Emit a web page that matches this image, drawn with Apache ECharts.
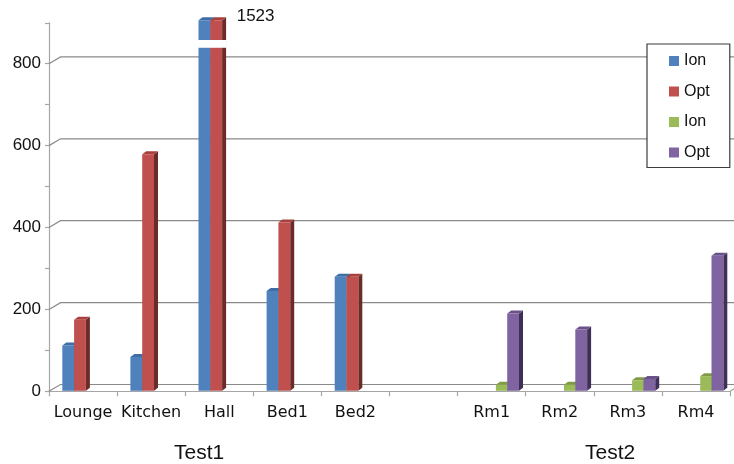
<!DOCTYPE html>
<html>
<head>
<meta charset="utf-8">
<script src="https://cdn.jsdelivr.net/npm/echarts@6/dist/echarts.min.js"></script>
<style>
  html, body { margin: 0; padding: 0; background: #ffffff; }
  #chart { width: 734px; height: 464px; }
</style>
</head>
<body>
<div id="chart"></div>
<script>
// Room readings, two test runs
const categories = ['Lounge', 'Kitchen', 'Hall', 'Bed1', 'Bed2', '', 'Rm1', 'Rm2', 'Rm3', 'Rm4'];
const ionTest1 = [112, 84, 1480, 245, 280, null, null, null, null, null];
const optTest1 = [175, 579, 1523, 412, 280, null, null, null, null, null];
const ionTest2 = [null, null, null, null, null, null, 16, 16, 27, 37];
const optTest2 = [null, null, null, null, null, null, 190, 151, 30, 331];
const wallLines = [0, 200, 400, 600, 800];
const groupLabels = ['Test1', 'Test2'];
const seriesNames = ['Ion Test1', 'Opt Test1', 'Ion Test2', 'Opt Test2'];

const AXIS_MAX = 900;
const CLIP_AT = 906;          // visible top of an off-scale column
const BREAK_BAND = [839, 858]; // white gap marking the cut column

// pseudo-3D geometry
const BAR_W = 11.8, DEPTH_X = 4, DEPTH_Y = 3;
const WALL_X = 11.5, WALL_Y = 6.8;

const palette = [
  { face: '#4F81BD', side: '#2C4D75', top: '#3F6DA5' },
  { face: '#C0504D', side: '#6B2B29', top: '#A8413E' },
  { face: '#9BBB59', side: '#5C7530', top: '#7F9C45' },
  { face: '#8064A2', side: '#3F3156', top: '#6A5189' }
];
const slotOffsets = [13.3, 25.1, 38.3, 49.6];

function toData(arr) {
  return arr.map((v, i) => [i, v == null ? '-' : v]);
}

function columnRenderer(k, labelled) {
  const c = palette[k];
  return function (params, api) {
    const v = api.value(1);
    if (v == null || isNaN(v)) return null;
    const cat = api.value(0);
    const band = api.size([1, 0])[0];
    const base = api.coord([cat, 0]);
    const x0 = base[0] - band / 2 + slotOffsets[k];
    const x1 = x0 + BAR_W;
    const yB = base[1] - 0.5;
    const over = v > AXIS_MAX;
    const yT = api.coord([cat, over ? CLIP_AT : v])[1];
    const children = [
      { type: 'polygon', shape: { points: [[x1, yT], [x1 + DEPTH_X, yT - DEPTH_Y], [x1 + DEPTH_X, yB - DEPTH_Y], [x1, yB]] }, style: { fill: c.side } },
      { type: 'polygon', shape: { points: [[x0, yT], [x0 + DEPTH_X, yT - DEPTH_Y], [x1 + DEPTH_X, yT - DEPTH_Y], [x1, yT]] }, style: { fill: c.top } },
      { type: 'rect', shape: { x: x0, y: yT, width: BAR_W, height: yB - yT }, style: { fill: c.face } }
    ];
    if (over) {
      const yHi = api.coord([cat, BREAK_BAND[1]])[1];
      const yLo = api.coord([cat, BREAK_BAND[0]])[1];
      children.push({ type: 'rect', shape: { x: x0 - 0.5, y: yHi, width: BAR_W + DEPTH_X + 1, height: yLo - yHi }, style: { fill: '#ffffff' } });
      if (labelled) {
        children.push({
          type: 'text',
          style: {
            text: String(v), x: x1 + DEPTH_X + 10.6, y: yT - 3.6,
            verticalAlign: 'middle', align: 'left',
            fill: '#111', font: '17px "Liberation Sans"'
          }
        });
      }
    }
    return { type: 'group', children: children };
  };
}

function wallRenderer(params, api) {
  const v = api.value(1);
  const band = api.size([1, 0])[0];
  const first = api.coord([0, v]);
  const last = api.coord([categories.length - 1, v]);
  const xl = first[0] - band / 2;
  const xr = last[0] + band / 2;
  const y = first[1];
  const children = [{
    type: 'polyline',
    shape: { points: [[xl, y], [xl + WALL_X, y - WALL_Y], [xr + WALL_X, y - WALL_Y]] },
    style: { stroke: '#8a8a8a', lineWidth: 1.2, fill: null }
  }];
  if (v === 0) {
    children.push({
      type: 'line',
      shape: { x1: xr, y1: y, x2: xr + WALL_X, y2: y - WALL_Y },
      style: { stroke: '#a6a6a6', lineWidth: 1.2 }
    });
  }
  return { type: 'group', children: children };
}

const valueSets = [ionTest1, optTest1, ionTest2, optTest2];

const chart = echarts.init(document.getElementById('chart'), null, { renderer: 'canvas' });

const series = [{
  type: 'custom',
  name: 'wall',
  silent: true,
  z: 1,
  renderItem: wallRenderer,
  data: wallLines.map(v => [0, v])
}];
valueSets.forEach((vals, k) => {
  series.push({
    type: 'custom',
    name: seriesNames[k],
    z: 2 + k,
    itemStyle: { color: palette[k].face },
    renderItem: columnRenderer(k, k === 1),
    data: toData(vals)
  });
});

chart.setOption({
  backgroundColor: '#ffffff',
  animation: false,
  grid: { left: 49, right: 4, top: 22.8, bottom: 72.7, containLabel: false },
  xAxis: {
    type: 'category',
    data: categories,
    boundaryGap: true,
    axisLine: { show: true, lineStyle: { color: '#a6a6a6', width: 1.2 } },
    axisTick: { show: true, length: 5, alignWithLabel: false, lineStyle: { color: '#a6a6a6', width: 1.2 } },
    axisLabel: { margin: 14, color: '#111', fontFamily: 'DejaVu Sans', fontSize: 16, interval: 0 },
    splitLine: { show: false }
  },
  yAxis: {
    type: 'value',
    min: 0, max: AXIS_MAX, interval: 100,
    axisLine: { show: true, lineStyle: { color: '#a6a6a6', width: 1.2 } },
    axisTick: { show: true, length: 4, lineStyle: { color: '#a6a6a6', width: 1.2 } },
    axisLabel: {
      margin: 8, color: '#111', fontFamily: 'Liberation Sans', fontSize: 17,
      formatter: v => (v % 200 === 0 && v < AXIS_MAX) ? String(v) : ''
    },
    splitLine: { show: false }
  },
  legend: {
    orient: 'vertical',
    left: 647, top: 44,
    padding: [9, 20, 7, 22],
    itemWidth: 10, itemHeight: 10, itemGap: 14.5,
    icon: 'rect',
    backgroundColor: '#ffffff',
    borderColor: '#3c3c3c', borderWidth: 1.2,
    data: seriesNames,
    formatter: n => n.split(' ')[0],
    textStyle: { fontFamily: 'Liberation Sans', fontSize: 16, color: '#111', lineHeight: 16 }
  },
  graphic: [
    { type: 'text', left: 174, top: 443, style: { text: groupLabels[0], font: '21px "Liberation Sans"', fill: '#111' } },
    { type: 'text', left: 585, top: 443, style: { text: groupLabels[1], font: '21px "Liberation Sans"', fill: '#111' } }
  ],
  series: series
});
</script>
</body>
</html>
